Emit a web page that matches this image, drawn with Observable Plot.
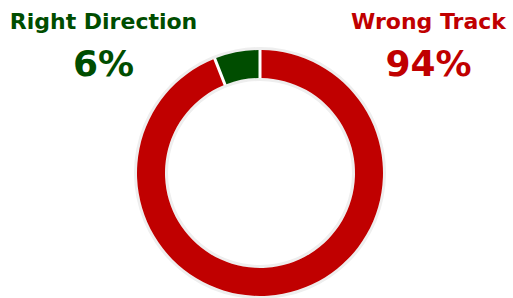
<!DOCTYPE html>
<html><head><meta charset="utf-8">
<script src="https://cdn.jsdelivr.net/npm/d3@7"></script>
<script src="https://cdn.jsdelivr.net/npm/@observablehq/plot@0.6"></script>
<style>body{margin:0;background:#fff} svg{display:block} #dbg{position:absolute;left:200px;top:150px;font:11px monospace;margin:0}</style>
</head><body><div id="chart"></div><pre id="dbg"></pre>
<script>
const dbg = document.getElementById("dbg");
const categories = ["Wrong Track", "Right Direction"];
const values = [94, 6];
const valueLabels = ["94%", "6%"];
const colors = ["#c00000", "#004d00"];
const labelOrder = ["Right Direction", "Wrong Track"];
const data = categories.map((c, i) => ({category: c, value: values[i], label: valueLabels[i]}));
const W = 513, H = 298, CX = 260, CY = 173, R_OUT = 123, R_IN = 95, GAP = 3;
function donut(index, scales) {
  try {
  const g = d3.create("svg:g").attr("transform", `translate(${CX},${CY})`);
  const arc = d3.arc();
  const full = 2 * Math.PI;
  g.append("path").attr("d", arc({innerRadius: R_OUT, outerRadius: R_OUT + 3, startAngle: 0, endAngle: full})).attr("fill", "#eeeeee");
  g.append("path").attr("d", arc({innerRadius: R_IN - 3, outerRadius: R_IN, startAngle: 0, endAngle: full})).attr("fill", "#eeeeee");
  const pie = d3.pie().sort(null).value(d => d.value)(data);
  const sliceArc = d3.arc().innerRadius(R_IN).outerRadius(R_OUT).padRadius(R_OUT).padAngle(GAP / R_OUT);
  for (const p of pie) {
    g.append("path").attr("d", sliceArc(p)).attr("fill", scales.color(p.data.category));
  }
  return g.node();
  } catch (e) { dbg.textContent += "\n" + e; }
}
try {
const chart = Plot.plot({
  width: W, height: H, margin: 0,
  x: {type: "point", domain: labelOrder, range: [103, 428], padding: 0, axis: null},
  y: {axis: null},
  color: {domain: categories, range: colors},
  style: {fontFamily: "DejaVu Sans", background: "#fff"},
  marks: [
    donut,
    Plot.text(data, {x: "category", text: "category", fill: "category", frameAnchor: "top", lineAnchor: "bottom", dy: 28, fontSize: 22, fontWeight: "bold"}),
    Plot.text(data, {x: "category", text: "label", fill: "category", frameAnchor: "top", lineAnchor: "bottom", dy: 75.5, fontSize: 36, fontWeight: "bold"})
  ]
});
document.getElementById("chart").appendChild(chart);
} catch (e) { dbg.textContent += "\n" + e; }
</script>
</body></html>
